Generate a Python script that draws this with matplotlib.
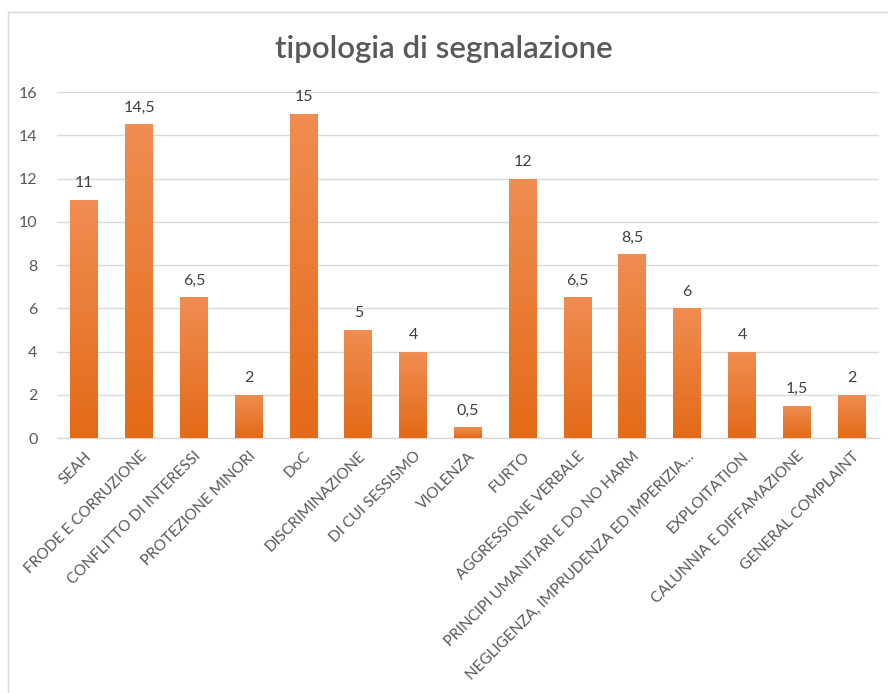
import matplotlib
matplotlib.use("Agg")
import matplotlib.pyplot as plt
import numpy as np
from matplotlib.lines import Line2D
from matplotlib.colors import LinearSegmentedColormap

categories = ["SEAH", "FRODE E CORRUZIONE", "CONFLITTO DI INTERESSI", "PROTEZIONE MINORI",
              "DoC", "DISCRIMINAZIONE", "DI CUI SESSISMO", "VIOLENZA", "FURTO",
              "AGGRESSIONE VERBALE", "PRINCIPI UMANITARI E DO NO HARM",
              "NEGLIGENZA, IMPRUDENZA ED IMPERIZIA…", "EXPLOITATION",
              "CALUNNIA E DIFFAMAZIONE", "GENERAL COMPLAINT"]
values = [11, 14.5, 6.5, 2, 15, 5, 4, 0.5, 12, 6.5, 8.5, 6, 4, 1.5, 2]
yticks = [0, 2, 4, 6, 8, 10, 12, 14, 16]
title = "tipologia di segnalazione"

plt.rcParams['font.family'] = ['Lato', 'DejaVu Sans']
txt = '#595959'

fig = plt.figure(figsize=(8.88, 6.93), dpi=100)
ax = fig.add_axes([57/888, 255/693, 822/888, 346/693])

x = np.arange(len(categories))
bars = ax.bar(x, values, width=0.51, color='#ED7D31', zorder=3)

grad = np.linspace(0, 1, 256).reshape(-1, 1)
cmap = LinearSegmentedColormap.from_list('g', ['#E36A17', '#F08D52'])
for b in bars:
    x0, y0 = b.get_x(), b.get_y()
    w, h = b.get_width(), b.get_height()
    im = ax.imshow(grad, extent=[x0, x0 + w, y0, y0 + h], origin='lower',
                   cmap=cmap, aspect='auto', zorder=4)
    im.set_clip_path(b)

for xi, v in zip(x, values):
    lab = ("%g" % v).replace('.', ',')
    ax.text(xi, v + 0.45, lab, ha='center', va='bottom', fontsize=11.5, color='#404040')

ax.set_xlim(-0.5, len(categories) - 0.5)
ax.set_ylim(0, 16)
ax.set_yticks(yticks)
ax.set_yticklabels([str(t) for t in yticks], fontsize=11.5, color=txt)
ax.set_xticks(x)
ax.set_xticklabels(categories, rotation=45, ha='right', rotation_mode='anchor',
                   fontsize=11, color=txt)
ax.tick_params(axis='both', length=0)
ax.tick_params(axis='y', pad=14)
ax.tick_params(axis='x', pad=8)
ax.grid(axis='y', color='#D9D9D9', linewidth=1, zorder=0)
for s in ['top', 'right', 'left']:
    ax.spines[s].set_visible(False)
ax.spines['bottom'].set_color('#D9D9D9')
ax.spines['bottom'].set_linewidth(1)

fig.text(0.5, 1 - 49/693, title, ha='center', va='center', fontsize=22.5,
         color=txt, fontweight='semibold')

fig.add_artist(Line2D([8/888, 8/888], [0, 1 - 12/693], transform=fig.transFigure,
                      color='#D9D9D9', linewidth=1))
fig.add_artist(Line2D([8/888, 1], [1 - 12/693, 1 - 12/693], transform=fig.transFigure,
                      color='#D9D9D9', linewidth=1))

fig.savefig("out.png", dpi=100)
